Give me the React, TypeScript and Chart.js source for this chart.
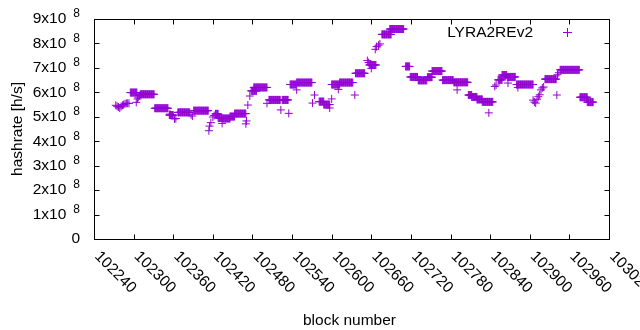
import React, { useEffect, useRef } from "react";
import { Chart, registerables } from "chart.js";

Chart.register(...registerables);

// ---------- data (values in units of 1e8 h/s) ----------
const SERIES_LABEL = "LYRA2REv2";
const X_TITLE = "block number";
const Y_TITLE = "hashrate [h/s]";
const X_TICKS = [102240, 102300, 102360, 102420, 102480, 102540, 102600, 102660, 102720, 102780, 102840, 102900, 102960, 103020];
const Y_TICK_MANTISSAS = [0, 1, 2, 3, 4, 5, 6, 7, 8, 9];
const Y_EXPONENT = 8;

// runs of consecutive blocks reporting the same hashrate
const RUN_START = [102295, 102310, 102332, 102354, 102367, 102391, 102424, 102428, 102435, 102446, 102453, 102478, 102482, 102505, 102525, 102537, 102547, 102581, 102588, 102600, 102612, 102636, 102657, 102676, 102688, 102712, 102719, 102731, 102745, 102752, 102768, 102785, 102807, 102812, 102820, 102828, 102852, 102858, 102866, 102880, 102923, 102946, 102976, 102987];
const RUN_END = [102305, 102331, 102352, 102360, 102385, 102413, 102428, 102434, 102446, 102453, 102470, 102486, 102502, 102522, 102534, 102546, 102570, 102588, 102597, 102612, 102632, 102650, 102667, 102690, 102709, 102718, 102730, 102744, 102752, 102767, 102784, 102806, 102812, 102820, 102828, 102844, 102858, 102865, 102878, 102905, 102940, 102975, 102987, 102996];
const RUN_VALUE = [5.99, 5.92, 5.35, 5.07, 5.18, 5.25, 5.12, 4.95, 4.93, 5.01, 5.13, 6.06, 6.2, 5.69, 5.69, 6.32, 6.4, 5.62, 5.5, 6.32, 6.4, 6.78, 7.12, 8.37, 8.59, 7.06, 6.63, 6.49, 6.62, 6.87, 6.5, 6.41, 5.89, 5.81, 5.71, 5.61, 6.51, 6.71, 6.63, 6.32, 6.54, 6.92, 5.8, 5.6];

// isolated blocks
const SINGLE_BLOCK = [102273, 102275, 102277, 102279, 102281, 102283, 102285, 102287, 102289, 102291, 102293, 102304, 102306, 102307, 102309, 102355, 102362, 102364, 102387, 102389, 102414, 102415, 102417, 102420, 102422, 102434, 102470, 102471, 102473, 102476, 102502, 102523, 102535, 102547, 102571, 102574, 102597, 102600, 102610, 102635, 102654, 102656, 102660, 102666, 102668, 102671, 102673, 102790, 102838, 102847, 102849, 102867, 102882, 102905, 102907, 102909, 102911, 102913, 102915, 102917, 102919, 102921, 102941, 102942, 102944];
const SINGLE_VALUE = [5.47, 5.43, 5.4, 5.36, 5.42, 5.47, 5.5, 5.53, 5.55, 5.55, 5.55, 5.59, 5.73, 5.8, 5.86, 5.11, 4.91, 4.93, 5.08, 5.03, 4.43, 4.62, 4.76, 4.99, 5.05, 4.73, 4.71, 4.83, 5.48, 5.85, 5.55, 5.28, 5.14, 6.1, 5.56, 5.89, 5.36, 5.73, 6.12, 5.89, 7.3, 7.22, 6.98, 7.76, 7.87, 7.93, 7.98, 6.1, 5.16, 6.24, 6.3, 6.38, 6.2, 5.68, 5.6, 5.56, 5.72, 5.82, 5.9, 6.1, 6.18, 6.22, 5.89, 6.72, 6.8];

const COLOR = "#9400d3";
const FONT = '15.5px "Liberation Sans", Arial, sans-serif';
const SUP_FONT = '12px "Liberation Sans", Arial, sans-serif';
const SCALE = Math.pow(10, Y_EXPONENT);

function buildPoints() {
  const pts: { x: number; y: number }[] = [];
  RUN_START.forEach((s, i) => {
    for (let b = s; b <= RUN_END[i]; b++) pts.push({ x: b, y: RUN_VALUE[i] * SCALE });
  });
  SINGLE_BLOCK.forEach((b, i) => pts.push({ x: b, y: SINGLE_VALUE[i] * SCALE }));
  return pts;
}

const gnuplotFrame = {
  id: "gnuplotFrame",
  afterDraw(chart: any) {
    const ctx = chart.ctx as CanvasRenderingContext2D;
    const { left, right, top, bottom } = chart.chartArea;
    const xs = chart.scales.x;
    const ys = chart.scales.y;
    const T = 5;
    ctx.save();
    ctx.strokeStyle = "#000";
    ctx.lineWidth = 1;
    ctx.strokeRect(left + 0.5, top + 0.5, right - left, bottom - top);
    ctx.beginPath();
    X_TICKS.forEach((v) => {
      const px = Math.round(xs.getPixelForValue(v)) + 0.5;
      ctx.moveTo(px, bottom + 0.5);
      ctx.lineTo(px, bottom + 0.5 - T);
      ctx.moveTo(px, top + 0.5);
      ctx.lineTo(px, top + 0.5 + T);
    });
    Y_TICK_MANTISSAS.forEach((m) => {
      const py = Math.round(ys.getPixelForValue(m * SCALE)) + 0.5;
      ctx.moveTo(left + 0.5, py);
      ctx.lineTo(left + 0.5 + T, py);
      ctx.moveTo(right + 0.5, py);
      ctx.lineTo(right + 0.5 - T, py);
    });
    ctx.stroke();

    ctx.fillStyle = "#000";
    // y tick labels
    Y_TICK_MANTISSAS.forEach((m) => {
      const py = ys.getPixelForValue(m * SCALE);
      const rightEdge = left - 14;
      ctx.textBaseline = "middle";
      if (m === 0) {
        ctx.font = FONT;
        ctx.textAlign = "right";
        ctx.fillText("0", rightEdge, py);
      } else {
        ctx.font = SUP_FONT;
        const sup = String(Y_EXPONENT);
        const sw = ctx.measureText(sup).width;
        ctx.textAlign = "left";
        ctx.fillText(sup, rightEdge - sw, py - 5);
        ctx.font = FONT;
        ctx.textAlign = "right";
        ctx.fillText(m + "x10", rightEdge - sw - 7, py);
      }
    });
    // x tick labels, rotated
    ctx.font = FONT;
    X_TICKS.forEach((v) => {
      const px = xs.getPixelForValue(v);
      ctx.save();
      ctx.translate(px + 3, bottom + 15);
      ctx.rotate(Math.PI / 4);
      ctx.textAlign = "left";
      ctx.textBaseline = "middle";
      ctx.fillText(String(v), 0, 0);
      ctx.restore();
    });
    // axis titles
    ctx.textAlign = "center";
    ctx.textBaseline = "alphabetic";
    ctx.fillText(X_TITLE, (left + right) / 2 - 2, 325);
    ctx.save();
    ctx.translate(22, (top + bottom) / 2);
    ctx.rotate(-Math.PI / 2);
    ctx.textAlign = "center";
    ctx.fillText(Y_TITLE, 0, 0);
    ctx.restore();
    // legend
    ctx.textAlign = "right";
    ctx.fillText(SERIES_LABEL, 533, 37);
    ctx.strokeStyle = COLOR;
    ctx.beginPath();
    ctx.moveTo(563, 32.5);
    ctx.lineTo(572, 32.5);
    ctx.moveTo(567.5, 28);
    ctx.lineTo(567.5, 37);
    ctx.stroke();
    ctx.restore();
  },
};

export default function App() {
  const ref = useRef<HTMLCanvasElement | null>(null);
  useEffect(() => {
    document.body.style.margin = "0";
    const canvas = ref.current;
    if (!canvas) return;
    const chart = new Chart(canvas, {
      type: "scatter",
      data: {
        datasets: [
          {
            label: SERIES_LABEL,
            data: buildPoints(),
            pointStyle: "cross",
            pointRadius: 4,
            pointHoverRadius: 4,
            borderColor: COLOR,
            backgroundColor: COLOR,
            borderWidth: 1,
            showLine: false,
          },
        ],
      },
      options: {
        animation: false,
        responsive: false,
        devicePixelRatio: 1,
        events: [],
        layout: { padding: { left: 94, right: 31, top: 19, bottom: 91 } },
        plugins: { legend: { display: false }, tooltip: { enabled: false } },
        scales: {
          x: { type: "linear", min: 102240, max: 103020, display: false },
          y: { type: "linear", min: 0, max: 9 * SCALE, display: false },
        },
      },
      plugins: [gnuplotFrame],
    });
    return () => chart.destroy();
  }, []);
  return (
    <div style={{ position: "fixed", left: 0, top: 0, width: 640, height: 330, background: "#fff" }}>
      <canvas ref={ref} width={640} height={330} style={{ display: "block", width: 640, height: 330 }} />
    </div>
  );
}
